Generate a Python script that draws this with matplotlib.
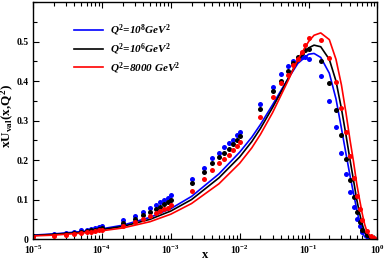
import matplotlib
matplotlib.use('Agg')
import matplotlib.pyplot as plt
from matplotlib.ticker import LogLocator, MultipleLocator, NullFormatter

# curves
x_line = [1e-5, 2e-5, 5e-5, 1e-4, 2e-4, 5e-4, 1e-3, 2e-3, 5e-3, 1e-2, 1.5e-2, 2e-2, 3e-2,
          4e-2, 5e-2, 7e-2, 0.1, 0.12, 0.15, 0.2, 0.25, 0.3, 0.35, 0.4, 0.45, 0.5, 0.55,
          0.6, 0.65, 0.7, 0.8, 0.9, 1.0]
blue_line = [0.010, 0.013, 0.019, 0.026, 0.035, 0.055, 0.077, 0.108, 0.165, 0.220, 0.258,
             0.290, 0.340, 0.377, 0.405, 0.445, 0.468, 0.470, 0.460, 0.420, 0.355, 0.280,
             0.215, 0.160, 0.115, 0.075, 0.042, 0.018, 0.006, 0.002, 0.0, 0.0, 0.0]
black_line = [0.009, 0.012, 0.017, 0.024, 0.032, 0.050, 0.071, 0.100, 0.155, 0.208, 0.247,
              0.280, 0.333, 0.373, 0.405, 0.452, 0.484, 0.491, 0.487, 0.455, 0.400, 0.330,
              0.262, 0.200, 0.148, 0.100, 0.065, 0.038, 0.018, 0.008, 0.001, 0.0, 0.0]
red_line = [0.008, 0.010, 0.015, 0.021, 0.028, 0.044, 0.063, 0.090, 0.140, 0.192, 0.231,
            0.265, 0.320, 0.365, 0.400, 0.455, 0.500, 0.516, 0.522, 0.505, 0.455, 0.390,
            0.318, 0.250, 0.195, 0.140, 0.100, 0.065, 0.038, 0.020, 0.004, 0.001, 0.0]

# data points
x_pts = [1e-5, 2e-5, 3e-5, 4e-5, 5e-5, 6e-5, 7e-5, 8e-5, 9e-5,
         1e-4, 2e-4, 3e-4, 4e-4, 5e-4, 6e-4, 7e-4, 8e-4, 9e-4,
         1e-3, 2e-3, 3e-3, 4e-3, 5e-3, 6e-3, 7e-3, 8e-3, 9e-3,
         1e-2, 2e-2, 3e-2, 4e-2, 5e-2, 6e-2, 7e-2, 8e-2, 9e-2,
         0.1, 0.15, 0.2, 0.25, 0.3, 0.35, 0.4, 0.45, 0.5, 0.55, 0.6, 0.7, 0.8, 0.9]
blue_pts = [0.009, 0.013, 0.016, 0.019, 0.022, 0.024, 0.026, 0.028, 0.030,
            0.032, 0.048, 0.059, 0.069, 0.078, 0.086, 0.093, 0.099, 0.105,
            0.111, 0.152, 0.181, 0.204, 0.219, 0.232, 0.242, 0.252, 0.263,
            0.272, 0.342, 0.386, 0.418, 0.439, 0.452, 0.458, 0.460, 0.460,
            0.457, 0.413, 0.349, 0.283, 0.219, 0.166, 0.120, 0.080, 0.052, 0.033, 0.019, 0.008, 0.003, 0.001]
black_pts = [0.008, 0.011, 0.014, 0.016, 0.019, 0.021, 0.023, 0.024, 0.026,
             0.028, 0.041, 0.052, 0.060, 0.069, 0.076, 0.082, 0.088, 0.094,
             0.099, 0.141, 0.169, 0.192, 0.208, 0.219, 0.229, 0.240, 0.251,
             0.261, 0.329, 0.375, 0.401, 0.425, 0.445, 0.460, 0.472, 0.478,
             0.482, 0.451, 0.394, 0.328, 0.263, 0.202, 0.149, 0.106, 0.069, 0.044, 0.023, 0.010, 0.004, 0.001]
red_pts = [0.006, 0.009, 0.011, 0.013, 0.015, 0.017, 0.019, 0.020, 0.022,
           0.023, 0.033, 0.042, 0.050, 0.058, 0.065, 0.070, 0.075, 0.079,
           0.086, 0.122, 0.151, 0.175, 0.192, 0.203, 0.214, 0.225, 0.235,
           0.246, 0.308, 0.360, 0.395, 0.415, 0.442, 0.457, 0.474, 0.491,
           0.508, 0.503, 0.458, 0.398, 0.331, 0.270, 0.210, 0.155, 0.110, 0.075, 0.048, 0.020, 0.008, 0.002]

labels = [r'$\mathit{Q^2}$=10$^{\mathit{8}}$GeV$^{\mathit{2}}$',
          r'$\mathit{Q^2}$=10$^{\mathit{6}}$GeV$^{\mathit{2}}$',
          r'$\mathit{Q^2}$=8000 GeV$^{\mathit{2}}$']
colors = ['#0000ff', '#000000', '#ff0000']

plt.rcParams['font.family'] = 'Liberation Serif'
plt.rcParams['mathtext.fontset'] = 'custom'
plt.rcParams['mathtext.rm'] = 'Liberation Serif:bold'
plt.rcParams['mathtext.bf'] = 'Liberation Serif:bold'
plt.rcParams['mathtext.it'] = 'Liberation Serif:bold:italic'

fig = plt.figure(figsize=(3.84, 2.63), dpi=100)
ax = fig.add_axes([0.086, 0.091, 0.897, 0.901])

for yl, yp, c, lab in zip([blue_line, black_line, red_line],
                          [blue_pts, black_pts, red_pts], colors, labels):
    ax.plot(x_line, yl, color=c, lw=1.2, label=lab)
    ax.plot(x_pts, yp, 'o', color=c, ms=3.6, mew=0)

ax.set_xscale('log')
ax.set_xlim(1e-5, 1)
ax.set_ylim(0, 0.6)
ax.yaxis.set_minor_locator(MultipleLocator(0.05))
ax.xaxis.set_minor_locator(LogLocator(base=10, subs=range(2, 10), numticks=20))
ax.xaxis.set_minor_formatter(NullFormatter())
ax.set_yticks([0, 0.1, 0.2, 0.3, 0.4, 0.5])
ax.set_yticklabels(['0', '0.1', '0.2', '0.3', '0.4', '0.5'])
ax.set_xticks([1e-5, 1e-4, 1e-3, 1e-2, 1e-1, 1])
ax.set_xticklabels(['10$^{-5}$', '10$^{-4}$', '10$^{-3}$', '10$^{-2}$', '10$^{-1}$', '10$^{0}$'])
ax.tick_params(which='both', direction='in', top=True, right=True, labelsize=7, width=0.8)
ax.tick_params(which='major', length=4, pad=3)
ax.tick_params(which='minor', length=3)
for lab in ax.get_xticklabels() + ax.get_yticklabels():
    lab.set_fontweight('bold')
for s in ax.spines.values():
    s.set_linewidth(1.0)

ax.set_xlabel('x', fontsize=9, fontweight='bold')
ax.xaxis.set_label_coords(0.5, -0.04)
ax.set_ylabel(r'xU$_{\rm val}$(x,Q$^{2}$)', fontsize=9.5, fontweight='bold')
ax.yaxis.set_label_coords(-0.048, 0.52)

leg = ax.legend(loc='upper left', bbox_to_anchor=(0.09, 0.955), frameon=False,
                handlelength=2.6, labelspacing=0.28, handletextpad=0.6,
                prop={'style': 'italic', 'weight': 'bold', 'size': 8})

fig.savefig('out.png', dpi=100)
